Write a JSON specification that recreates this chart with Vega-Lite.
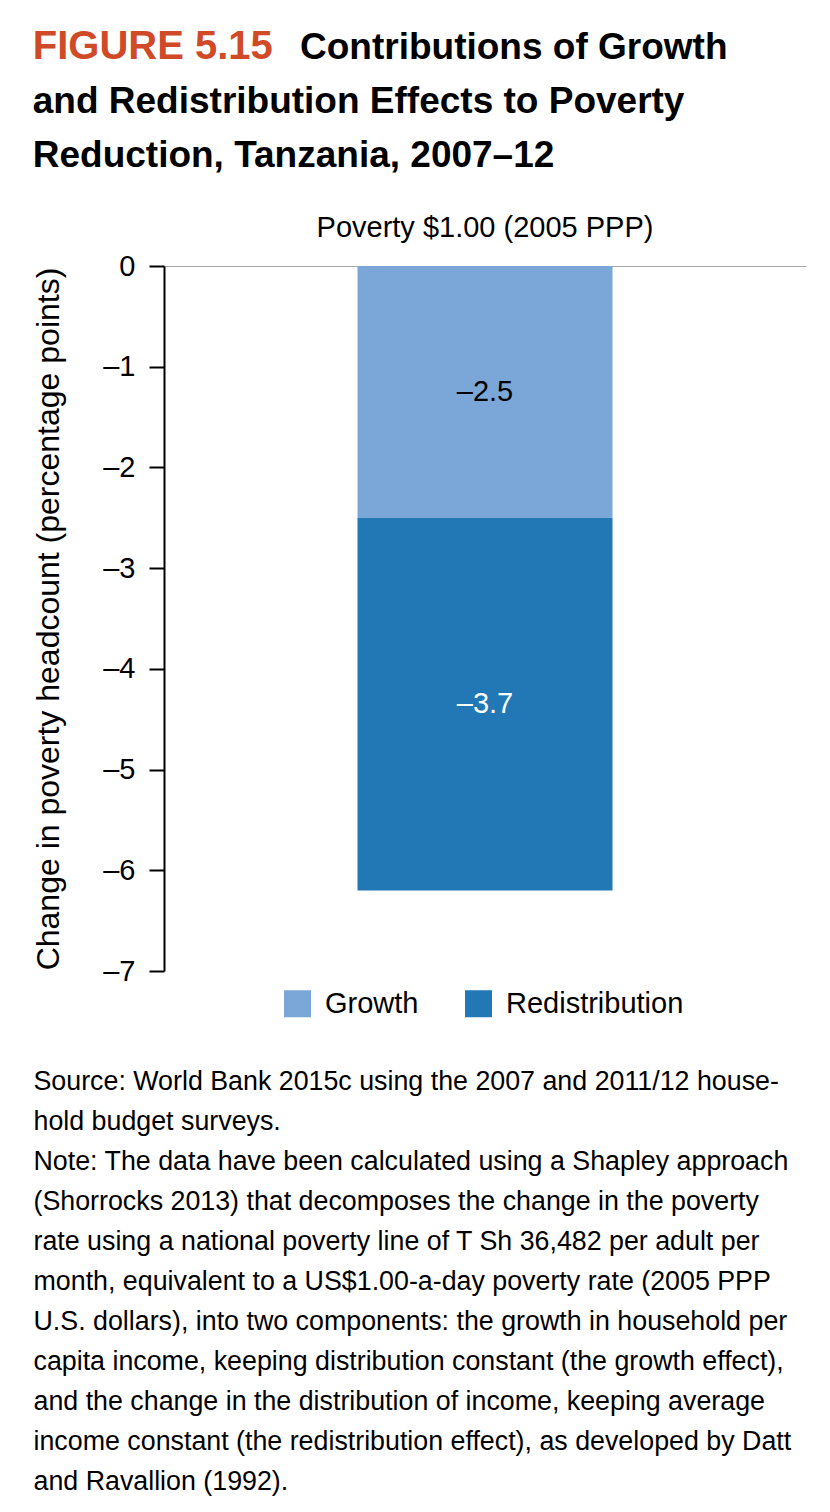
{
  "$schema": "https://vega.github.io/schema/vega-lite/v6.json",
  "width": 642,
  "height": 705,
  "padding": {"left": 32, "top": 27, "right": 10, "bottom": 10},
  "background": "white",
  "config": {
    "view": {"stroke": null},
    "font": "Liberation Sans"
  },
  "title": {
    "text": "FIGURE 5.15",
    "color": "#d04a27",
    "fontSize": 40,
    "fontWeight": "bold",
    "font": "Liberation Sans",
    "anchor": "start",
    "frame": "bounds",
    "baseline": "top",
    "subtitle": [
      "\u200b\u00a0\u00a0\u00a0\u00a0\u00a0\u00a0\u00a0\u00a0\u00a0\u00a0\u00a0\u00a0\u00a0\u00a0\u00a0\u00a0\u00a0\u00a0\u00a0\u00a0\u00a0\u00a0\u00a0\u00a0\u00a0\u00a0Contributions of Growth",
      "and Redistribution Effects to Poverty",
      "Reduction, Tanzania, 2007\u201312"
    ],
    "subtitleColor": "black",
    "subtitleFont": "Liberation Sans",
    "subtitleFontSize": 37,
    "subtitleFontWeight": "bold",
    "subtitleLineHeight": 54,
    "subtitlePadding": -37,
    "offset": 39
  },
  "data": {
    "values": [
      {"line": "Poverty $1.00 (2005 PPP)", "effect": "Growth", "value": -2.5, "label": "\u20132.5", "order": 1},
      {"line": "Poverty $1.00 (2005 PPP)", "effect": "Redistribution", "value": -3.7, "label": "\u20133.7", "order": 2}
    ]
  },
  "resolve": {"axis": {"x": "independent"}},
  "layer": [
    {
      "mark": {"type": "bar", "width": 255},
      "encoding": {
        "x": {
          "field": "line",
          "type": "nominal",
          "axis": {
            "orient": "top",
            "title": null,
            "ticks": false,
            "domainColor": "#a6a6a6",
            "domainWidth": 1,
            "labelFontSize": 29,
            "labelPadding": 24,
            "labelAngle": 0,
            "labelLimit": 1000,
            "labelColor": "black"
          }
        },
        "y": {
          "field": "value",
          "type": "quantitative",
          "stack": "zero",
          "scale": {"domain": [-7, 0], "nice": false},
          "axis": {
            "title": "Change in poverty headcount (percentage points)",
            "titleFontSize": 32,
            "titleFontWeight": "normal",
            "titleColor": "black",
            "titlePadding": 37,
            "titleLimit": 1000,
            "values": [0, -1, -2, -3, -4, -5, -6, -7],
            "labelExpr": "datum.value == 0 ? '0' : '\u2013' + abs(datum.value)",
            "labelFontSize": 29,
            "labelColor": "black",
            "labelPadding": 14,
            "tickSize": 15,
            "tickColor": "black",
            "tickWidth": 2,
            "domainColor": "black",
            "domainWidth": 2,
            "grid": false
          }
        },
        "color": {
          "field": "effect",
          "type": "nominal",
          "scale": {"domain": ["Growth", "Redistribution"], "range": ["#7ba7d8", "#2277b5"]},
          "legend": {
            "orient": "none",
            "legendX": 119,
            "legendY": 723,
            "direction": "horizontal",
            "title": null,
            "symbolType": "square",
            "symbolSize": 729,
            "symbolStrokeWidth": 0,
            "symbolOpacity": 1,
            "labelFontSize": 29,
            "labelLimit": 1000,
            "labelOffset": 13,
            "columnPadding": 45,
            "labelColor": "black"
          }
        },
        "order": {"field": "order"}
      }
    },
    {
      "transform": [
        {"stack": "value", "groupby": ["line"], "sort": [{"field": "order"}], "as": ["v0", "v1"]},
        {"calculate": "(datum.v0 + datum.v1) / 2", "as": "mid"}
      ],
      "mark": {"type": "text", "fontSize": 29},
      "encoding": {
        "x": {
          "field": "line",
          "type": "nominal",
          "axis": {
            "orient": "bottom",
            "labels": false,
            "ticks": false,
            "domain": false,
            "title": [
              "Source: World Bank 2015c using the 2007 and 2011/12 house-",
              "hold budget surveys.",
              "Note: The data have been calculated using a Shapley approach",
              "(Shorrocks 2013) that decomposes the change in the poverty",
              "rate using a national poverty line of T Sh 36,482 per adult per",
              "month, equivalent to a US$1.00-a-day poverty rate (2005 PPP",
              "U.S. dollars), into two components: the growth in household per",
              "capita income, keeping distribution constant (the growth effect),",
              "and the change in the distribution of income, keeping average",
              "income constant (the redistribution effect), as developed by Datt",
              "and Ravallion (1992)."
            ],
            "titleFontSize": 26.8,
            "titleFontWeight": "normal",
            "titleColor": "black",
            "titleLineHeight": 40,
            "titleLimit": 2000,
            "titleAnchor": "start",
            "titleAlign": "left",
            "titleX": -131,
            "titleY": 97,
            "titleBaseline": "top"
          }
        },
        "y": {"field": "mid", "type": "quantitative"},
        "text": {"field": "label"},
        "color": {
          "condition": {"test": "datum.effect === 'Redistribution'", "value": "white"},
          "value": "black"
        }
      }
    }
  ]
}
